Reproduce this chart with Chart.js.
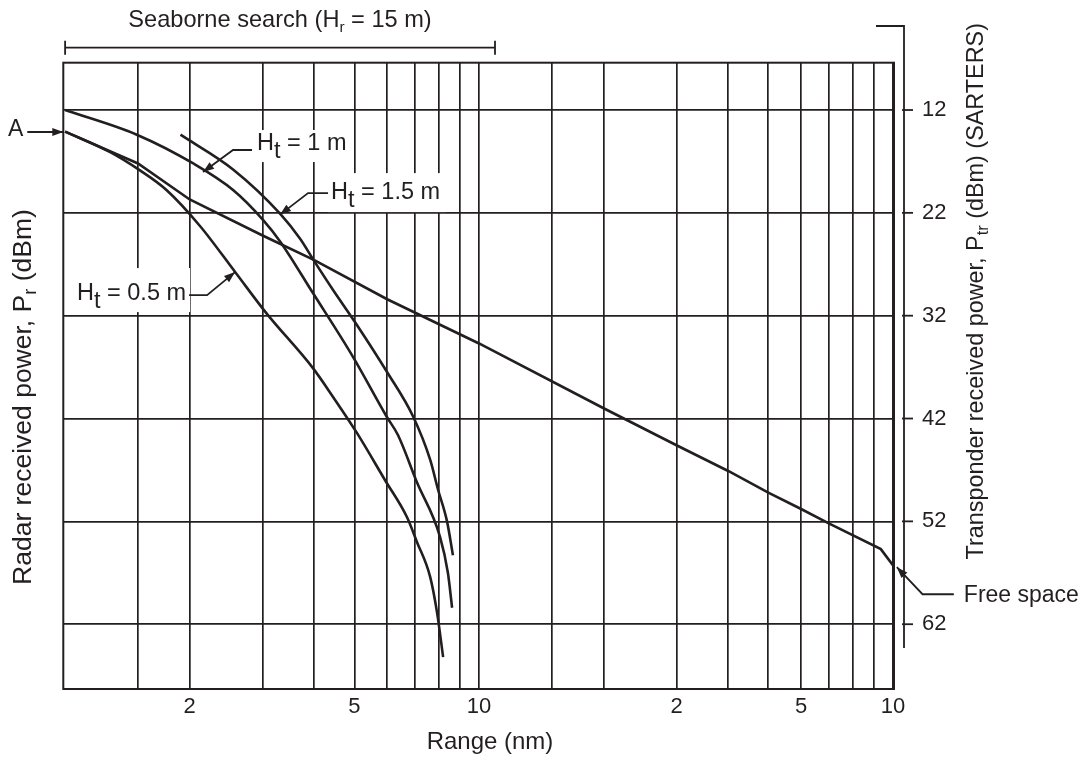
<!DOCTYPE html>
<html><head><meta charset="utf-8">
<script src="https://cdn.jsdelivr.net/npm/chart.js@4.4.0/dist/chart.umd.min.js"></script>
<style>html,body{margin:0;padding:0;background:#fff;}#wrap{width:1085px;height:760px;position:relative;}</style>
</head><body><div id="wrap"><canvas id="c" width="1085" height="760"></canvas></div>
<script>
// ---------------- data ----------------
const rangeFree = [1.0, 1.5, 2, 3, 4, 6, 10, 20, 30, 40, 50, 60, 70, 93.5, 100.6];
const powerFree = [14.1, 17.2, 20.7, 24.2, 26.6, 30.4, 34.7, 41.0, 44.6, 47.1, 49.2, 50.8, 52.2, 54.7, 56.4];

const range05 = [1.0, 1.285, 1.52, 1.76, 2.12, 2.58, 3.07, 3.97, 4.44, 5.07, 5.93, 6.70, 7.08, 7.62, 7.92, 8.19];
const power05 = [14.1, 16.1, 17.9, 19.8, 23.3, 27.8, 31.8, 37.1, 39.9, 43.4, 48.0, 51.6, 54.0, 57.4, 60.9, 65.2];

const range1 = [1.0, 1.49, 2.04, 2.55, 3.01, 3.31, 3.97, 4.96, 6.00, 6.37, 7.08, 8.05, 8.41, 8.61];
const power1 = [12.0, 14.4, 17.2, 19.8, 22.7, 24.8, 29.8, 36.0, 41.9, 43.6, 48.2, 53.5, 57.0, 60.4];

const range15 = [1.90, 2.55, 3.31, 3.70, 3.97, 4.44, 5.07, 6.00, 6.93, 7.62, 7.96, 8.37, 8.65];
const power15 = [14.4, 17.8, 22.1, 24.55, 26.5, 29.5, 32.9, 37.5, 41.8, 46.0, 48.9, 52.0, 55.3];

// axis grid / tick labels
const rangeGrid = [1.5, 2, 3, 4, 5, 6, 7, 8, 9, 10, 15, 20, 30, 40, 50, 60, 70, 80, 90, 100];
const rangeTickValues = [2, 5, 10, 30, 60, 100];
const rangeTickTexts = ['2', '5', '10', '2', '5', '10'];
const powerTicks = [12, 22, 32, 42, 52, 62];
const rangeMin = 0.99, rangeMax = 100.6;
const powerMin = 7.4, powerMax = 68.3;
const seaborneRange = [1.0, 10.93];

// ---------------- styling ----------------
const INK = '#231f20';
const FONT = '"Liberation Sans", Arial, Helvetica, sans-serif';
const fontStr = s => s + 'px ' + FONT;

function zip(xs, ys) { return xs.map((x, i) => ({x: x, y: ys[i]})); }

function richWidth(ctx, parts, size) {
  let w = 0;
  for (const p of parts) { ctx.font = fontStr(size * (p.s || 1)); w += ctx.measureText(p.t).width; }
  return w;
}
function drawRich(ctx, parts, x, y, size, align) {
  const w = richWidth(ctx, parts, size);
  let cx = align === 'right' ? x - w : (align === 'center' ? x - w / 2 : x);
  ctx.textAlign = 'left'; ctx.textBaseline = 'alphabetic';
  for (const p of parts) {
    ctx.font = fontStr(size * (p.s || 1));
    ctx.fillText(p.t, cx, y + (p.dy || 0));
    cx += ctx.measureText(p.t).width;
  }
  return w;
}
function arrowHead(ctx, fx, fy, tx, ty) {
  const a = Math.atan2(ty - fy, tx - fx), L = 11, W = 4;
  ctx.beginPath();
  ctx.moveTo(tx, ty);
  ctx.lineTo(tx - L * Math.cos(a) + W * Math.sin(a), ty - L * Math.sin(a) - W * Math.cos(a));
  ctx.lineTo(tx - L * Math.cos(a) - W * Math.sin(a), ty - L * Math.sin(a) + W * Math.cos(a));
  ctx.closePath(); ctx.fill();
}

// callouts: anchor in data units, leader/text offsets in pixels from the anchor
const callouts = [
  {parts: [{t: 'A'}], at: [0.99, 14.14], path: [[-36, 0]], text: [-40, 4], align: 'right', size: 23, box: null},
  {parts: [{t: 'H'}, {t: 't', dy: 8}, {t: ' = 1 m'}], at: [2.154, 18.03], path: [[30, -22], [49, -22]], text: [54, -22], align: 'left', size: 23.5, box: [-3, -20, 6, 12]},
  {parts: [{t: 'H'}, {t: 't', dy: 8}, {t: ' = 1.5 m'}], at: [3.306, 22.17], path: [[28, -21.5], [48, -21.5]], text: [51, -15.5], align: 'left', size: 23.5, box: [-3, -26, 6, 13]},
  {parts: [{t: 'H'}, {t: 't', dy: 8}, {t: ' = 0.5 m'}], at: [2.574, 27.76], path: [[-28, 23], [-46, 23]], text: [-49, 28], align: 'right', size: 23.5, box: [-3, -32, 4, 12]},
  {parts: [{t: 'Free space'}], at: [102.2, 56.46], path: [[25.7, 27], [57, 27]], text: [67, 35], align: 'left', size: 23, box: null}
];

const decor = {
  id: 'decor',
  beforeDatasetsDraw(chart) {
    const ctx = chart.ctx, xs = chart.scales.x, ys = chart.scales.y;
    ctx.save(); ctx.fillStyle = '#fff';
    for (const c of callouts) {
      if (!c.box) continue;
      const px = xs.getPixelForValue(c.at[0]), py = ys.getPixelForValue(c.at[1]);
      const w = richWidth(ctx, c.parts, c.size);
      const tx = px + c.text[0], ty = py + c.text[1];
      const x0 = c.align === 'right' ? tx - w : tx;
      ctx.fillRect(x0 + c.box[0], ty + c.box[1], w + c.box[2] - c.box[0], c.box[3] - c.box[1]);
    }
    ctx.restore();
  },
  afterDatasetsDraw(chart) {
    const ctx = chart.ctx, xs = chart.scales.x, ys = chart.scales.y, a = chart.chartArea;
    ctx.save();
    ctx.strokeStyle = INK; ctx.fillStyle = INK; ctx.lineCap = 'butt';
    // plot frame
    ctx.lineWidth = 2;
    ctx.strokeRect(a.left, a.top, a.right - a.left, a.bottom - a.top);
    // right-hand axis line with ticks
    const ax = a.right + 10;
    ctx.lineWidth = 1.8;
    ctx.beginPath(); ctx.moveTo(ax - 28, 26); ctx.lineTo(ax, 26); ctx.lineTo(ax, 648); ctx.stroke();
    for (const v of powerTicks) {
      const py = ys.getPixelForValue(v);
      ctx.beginPath(); ctx.moveTo(ax - 2, py); ctx.lineTo(ax + 9, py); ctx.stroke();
    }
    // seaborne search bracket
    const b0 = xs.getPixelForValue(seaborneRange[0]), b1 = xs.getPixelForValue(seaborneRange[1]);
    const by = a.top - 15;
    ctx.beginPath(); ctx.moveTo(b0, by); ctx.lineTo(b1, by);
    ctx.moveTo(b0, by - 7); ctx.lineTo(b0, by + 7);
    ctx.moveTo(b1, by - 7); ctx.lineTo(b1, by + 7); ctx.stroke();
    drawRich(ctx, [{t: 'Seaborne search (H'}, {t: 'r', s: 0.65, dy: 5}, {t: ' = 15 m)'}], 280, 27, 23.6, 'center');
    // callouts
    ctx.lineWidth = 1.8;
    for (const c of callouts) {
      const px = xs.getPixelForValue(c.at[0]), py = ys.getPixelForValue(c.at[1]);
      ctx.beginPath(); ctx.moveTo(px, py);
      for (const p of c.path) ctx.lineTo(px + p[0], py + p[1]);
      ctx.stroke();
      arrowHead(ctx, px + c.path[0][0], py + c.path[0][1], px, py);
      drawRich(ctx, c.parts, px + c.text[0], py + c.text[1], c.size, c.align);
    }
    // axis titles
    drawRich(ctx, [{t: 'Range (nm)'}], 490, 749, 24, 'center');
    ctx.save(); ctx.translate(31, 397); ctx.rotate(-Math.PI / 2);
    drawRich(ctx, [{t: 'Radar received power, P'}, {t: 'r', s: 0.7, dy: 5}, {t: ' (dBm)'}], 0, 0, 26.5, 'center');
    ctx.restore();
    ctx.save(); ctx.translate(983, 23); ctx.rotate(-Math.PI / 2);
    drawRich(ctx, [{t: 'Transponder received power, P'}, {t: 'tr', s: 0.7, dy: 5}, {t: ' (dBm) (SARTERS)'}], 0, 0, 23.4, 'right');
    ctx.restore();
    ctx.restore();
  }
};

const lineStyle = {borderColor: INK, borderWidth: 2.6, pointRadius: 0, fill: false};

new Chart(document.getElementById('c'), {
  type: 'line',
  data: {
    datasets: [
      Object.assign({label: 'Free space', data: zip(rangeFree, powerFree), tension: 0}, lineStyle),
      Object.assign({label: 'Ht = 0.5 m', data: zip(range05, power05), cubicInterpolationMode: 'monotone'}, lineStyle),
      Object.assign({label: 'Ht = 1 m', data: zip(range1, power1), cubicInterpolationMode: 'monotone'}, lineStyle),
      Object.assign({label: 'Ht = 1.5 m', data: zip(range15, power15), cubicInterpolationMode: 'monotone'}, lineStyle)
    ]
  },
  options: {
    responsive: false,
    animation: false,
    devicePixelRatio: 1,
    layout: {padding: {left: 63.3, top: 62.7, right: 0, bottom: 0}},
    plugins: {legend: {display: false}, tooltip: {enabled: false}},
    scales: {
      x: {
        type: 'logarithmic', position: 'bottom', min: rangeMin, max: rangeMax,
        afterBuildTicks: s => { s.ticks = rangeGrid.map(v => ({value: v})); },
        afterFit: s => { s.height = 760 - 689; },
        grid: {color: INK, lineWidth: 1.7, drawTicks: false},
        border: {display: false},
        ticks: {
          autoSkip: false, maxRotation: 0, padding: 5, color: INK, font: {family: FONT, size: 22},
          callback: v => { const i = rangeTickValues.indexOf(Number(v)); return i >= 0 ? rangeTickTexts[i] : ''; }
        }
      },
      y: {
        type: 'linear', position: 'right', reverse: true, min: powerMin, max: powerMax,
        afterBuildTicks: s => { s.ticks = powerTicks.map(v => ({value: v})); },
        afterFit: s => { s.width = 1085 - 894; },
        grid: {color: INK, lineWidth: 1.7, drawTicks: false},
        border: {display: false},
        ticks: {padding: 28, color: INK, font: {family: FONT, size: 22}, callback: v => String(v)}
      }
    }
  },
  plugins: [decor]
});
</script>
</body></html>
